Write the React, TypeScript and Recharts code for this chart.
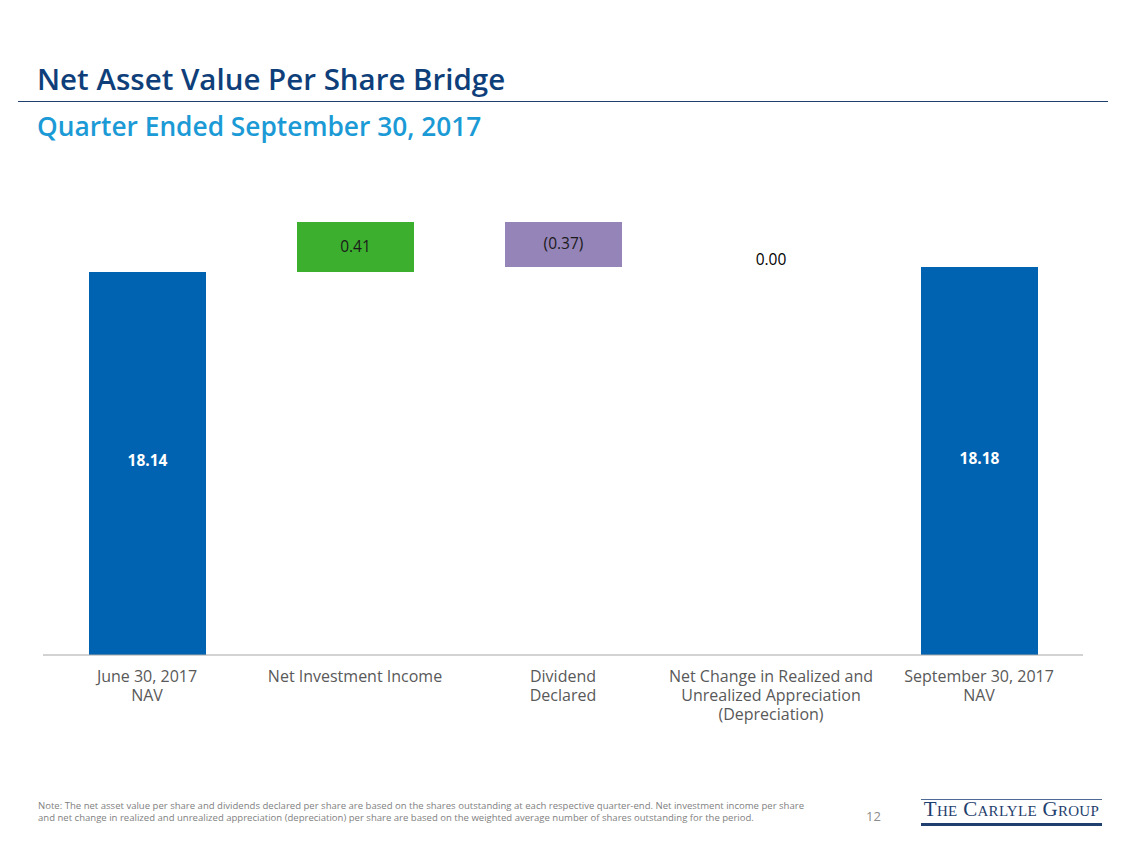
import React from 'react';
import { BarChart, Bar, XAxis, YAxis, Cell, LabelList, ReferenceDot } from 'recharts';

// bridge steps
const categories = [
  ['June 30, 2017', 'NAV'],
  ['Net Investment Income'],
  ['Dividend', 'Declared'],
  ['Net Change in Realized and', 'Unrealized Appreciation', '(Depreciation)'],
  ['September 30, 2017', 'NAV'],
];
const values = [18.14, 0.41, -0.37, 0.0, 18.18];
const isTotal = [true, false, false, false, true];
const barColors = ['#0063B1', '#3CAF2E', '#9584B7', '#9584B7', '#0063B1'];
const labelColors = ['#FFFFFF', '#1A1A1A', '#1A1A1A', '#000000', '#FFFFFF'];

const fmt = (v: number) => (v < 0 ? `(${Math.abs(v).toFixed(2)})` : v.toFixed(2));

// build floating ranges for the waterfall
let running = 0;
const chartData = values.map((v, i) => {
  let range: [number, number];
  if (isTotal[i]) {
    range = [0, v];
    running = v;
  } else {
    const next = running + v;
    range = [Math.min(running, next), Math.max(running, next)];
    running = next;
  }
  return { name: categories[i].join(' '), range, label: fmt(v), flat: v === 0 && !isTotal[i] };
});

const font = '"Open Sans", "Noto Sans", sans-serif';
const CHART_H = 760;
const MARGIN_BOTTOM = 5;
const XAXIS_H = 100;
const PLOT_BOTTOM = CHART_H - MARGIN_BOTTOM - XAXIS_H;

const CategoryTick = (props: any) => {
  const { x, y, index } = props;
  const lines = categories[index] || [];
  return (
    <g>
      {lines.map((l, i) => (
        <text key={i} x={x} y={y + 19 * (i + 1)} textAnchor="middle" fill="#595959" fontSize={16} fontFamily={font}>
          {l}
        </text>
      ))}
    </g>
  );
};

const BarLabel = (props: any) => {
  const { x, y, width, height, value } = props;
  const idx = chartData.findIndex((d) => d.label === value);
  if (idx < 0 || chartData[idx].flat) return null;
  const top = Math.min(y, y + height);
  const bottom = Math.min(Math.max(y, y + height), PLOT_BOTTOM);
  const total = isTotal[idx];
  return (
    <text
      x={x + width / 2}
      y={(top + bottom) / 2 - (total ? 3 : 1)}
      textAnchor="middle"
      dominantBaseline="central"
      fill={labelColors[idx]}
      fontSize={15.5}
      fontWeight={total ? 700 : 500}
      fontFamily={font}
    >
      {value}
    </text>
  );
};

export default function App() {
  return (
    <div style={{ position: 'absolute', left: 0, top: 0, width: 1128, height: 846, background: '#fff', fontFamily: font }}>
      <div style={{ position: 'absolute', left: 37, top: 58, fontSize: 29.5, fontWeight: 600, color: '#0F3F7A', whiteSpace: 'nowrap' }}>
        Net Asset Value Per Share Bridge
      </div>
      <div style={{ position: 'absolute', left: 18, top: 101, width: 1090, height: 1, background: '#1F3F6E' }} />
      <div style={{ position: 'absolute', left: 37, top: 108, fontSize: 26.3, fontWeight: 600, color: '#1B9AD6', whiteSpace: 'nowrap' }}>
        Quarter Ended September 30, 2017
      </div>

      <div style={{ position: 'absolute', left: 0, top: 0 }}>
        <BarChart
          width={1128}
          height={CHART_H}
          data={chartData}
          margin={{ top: 167, right: 45, bottom: MARGIN_BOTTOM, left: 43 }}
          accessibilityLayer={false}
        >
          <XAxis
            dataKey="name"
            axisLine={{ stroke: '#A6A6A6' }}
            tickLine={false}
            interval={0}
            height={XAXIS_H}
            tick={<CategoryTick />}
          />
          <YAxis hide domain={[15, 19]} allowDataOverflow />
          <Bar dataKey="range" barSize={117} isAnimationActive={false}>
            {chartData.map((d, i) => (
              <Cell key={`cell-${i}`} fill={barColors[i]} />
            ))}
            <LabelList dataKey="label" content={<BarLabel />} />
          </Bar>
          {chartData
            .filter((d) => d.flat)
            .map((d) => (
              <ReferenceDot
                key={d.name}
                x={d.name}
                y={d.range[1]}
                r={0}
                stroke="none"
                fill="none"
                label={{
                  value: d.label,
                  position: 'top',
                  offset: 2,
                  fill: '#000',
                  fontSize: 15.5,
                  fontWeight: 500,
                  fontFamily: font,
                }}
              />
            ))}
        </BarChart>
      </div>

      <div style={{ position: 'absolute', left: 38, top: 800, fontSize: 9.55, lineHeight: '12px', color: '#7F7F7F', whiteSpace: 'nowrap' }}>
        Note: The net asset value per share and dividends declared per share are based on the shares outstanding at each respective quarter-end. Net investment income per share
        <br />
        and net change in realized and unrealized appreciation (depreciation) per share are based on the weighted average number of shares outstanding for the period.
      </div>
      <div style={{ position: 'absolute', left: 866, top: 807, fontSize: 13, color: '#8C8C8C' }}>12</div>

      <div style={{ position: 'absolute', left: 921, top: 799, width: 181, height: 1, background: '#4E6A96' }} />
      <div
        style={{
          position: 'absolute',
          left: 921,
          top: 797,
          width: 181,
          textAlign: 'center',
          fontFamily: '"Liberation Serif", "DejaVu Serif", serif',
          fontVariant: 'small-caps',
          fontSize: 21,
          color: '#1F3F6E',
          whiteSpace: 'nowrap',
          letterSpacing: 0.3,
        }}
      >
        The Carlyle Group
      </div>
      <div style={{ position: 'absolute', left: 921, top: 823, width: 181, height: 3, background: '#1F3F6E' }} />
    </div>
  );
}
